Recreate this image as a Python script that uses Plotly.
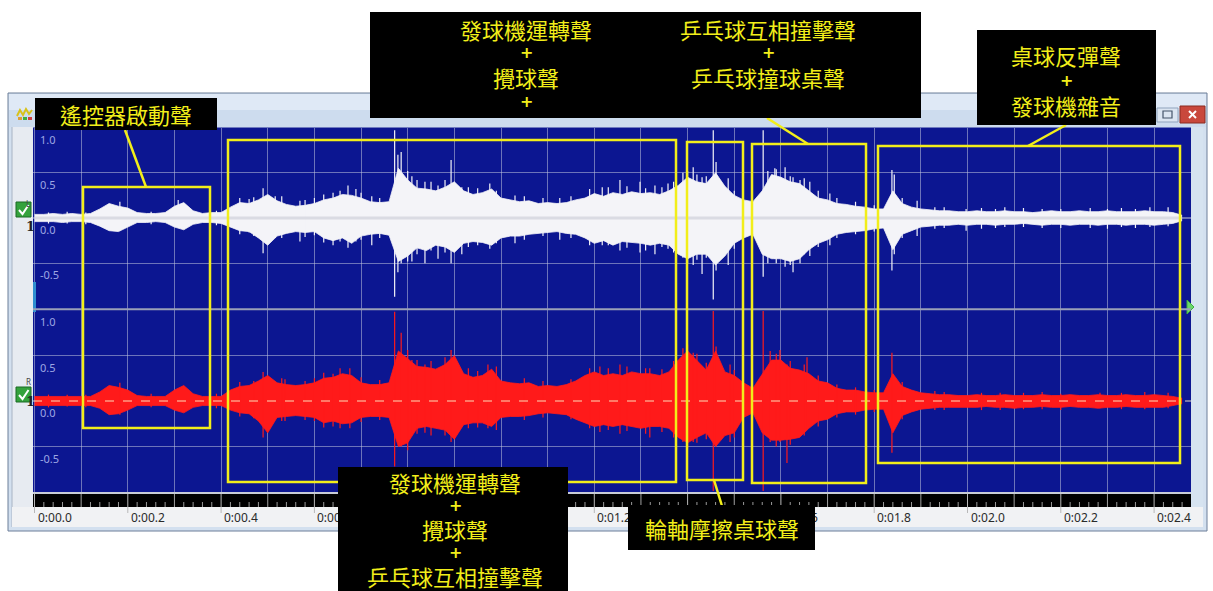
import plotly.graph_objects as go

W, H = 1213, 591

# ---- waveform envelopes (seconds, normalised amplitude) ----
TIME = [
    0.00, 0.02, 0.04, 0.06, 0.08, 0.10, 0.12, 0.14, 0.16, 0.18,
    0.20, 0.22, 0.24, 0.26, 0.28, 0.30, 0.32, 0.34, 0.36, 0.38,
    0.40, 0.42, 0.44, 0.46, 0.48, 0.50, 0.52, 0.54, 0.56, 0.58,
    0.60, 0.62, 0.64, 0.66, 0.68, 0.70, 0.72, 0.74, 0.76, 0.78,
    0.80, 0.82, 0.84, 0.86, 0.88, 0.90, 0.92, 0.94, 0.96, 0.98,
    1.00, 1.02, 1.04, 1.06, 1.08, 1.10, 1.12, 1.14, 1.16, 1.18,
    1.20, 1.22, 1.24, 1.26, 1.28, 1.30, 1.32, 1.34, 1.36, 1.38,
    1.40, 1.42, 1.44, 1.46, 1.48, 1.50, 1.52, 1.54, 1.56, 1.58,
    1.60, 1.62, 1.64, 1.66, 1.68, 1.70, 1.72, 1.74, 1.76, 1.78,
    1.80, 1.82, 1.84, 1.86, 1.88, 1.90, 1.92, 1.94, 1.96, 1.98,
    2.00, 2.02, 2.04, 2.06, 2.08, 2.10, 2.12, 2.14, 2.16, 2.18,
    2.20, 2.22, 2.24, 2.26, 2.28, 2.30, 2.32, 2.34, 2.36, 2.38,
    2.40, 2.42, 2.44, 2.46,
]

L_UP = [
    0.04, 0.04, 0.05, 0.04, 0.05, 0.04, 0.05, 0.10, 0.16, 0.13,
    0.11, 0.06, 0.05, 0.05, 0.06, 0.13, 0.17, 0.08, 0.05, 0.06,
    0.06, 0.12, 0.17, 0.16, 0.20, 0.26, 0.19, 0.15, 0.13, 0.14,
    0.16, 0.20, 0.22, 0.26, 0.25, 0.22, 0.18, 0.17, 0.18, 0.55,
    0.42, 0.33, 0.32, 0.30, 0.34, 0.40, 0.30, 0.26, 0.28, 0.32,
    0.22, 0.20, 0.18, 0.19, 0.16, 0.17, 0.16, 0.17, 0.20, 0.22,
    0.27, 0.24, 0.28, 0.26, 0.29, 0.27, 0.28, 0.26, 0.30, 0.36,
    0.45, 0.40, 0.38, 0.50, 0.35, 0.25, 0.20, 0.18, 0.30, 0.48,
    0.45, 0.40, 0.38, 0.30, 0.22, 0.20, 0.16, 0.15, 0.13, 0.12,
    0.10, 0.10, 0.30, 0.16, 0.12, 0.10, 0.09, 0.08, 0.08, 0.07,
    0.07, 0.08, 0.07, 0.07, 0.08, 0.07, 0.07, 0.06, 0.07, 0.08,
    0.07, 0.07, 0.08, 0.07, 0.07, 0.08, 0.07, 0.07, 0.07, 0.08,
    0.07, 0.07, 0.06, 0.03,
]
L_LO = [
    -0.04, -0.04, -0.04, -0.05, -0.04, -0.04, -0.05, -0.09, -0.14, -0.15,
    -0.10, -0.05, -0.05, -0.04, -0.05, -0.10, -0.13, -0.07, -0.05, -0.05,
    -0.06, -0.10, -0.14, -0.15, -0.22, -0.30, -0.20, -0.17, -0.15, -0.16,
    -0.15, -0.22, -0.25, -0.22, -0.28, -0.20, -0.18, -0.17, -0.19, -0.48,
    -0.42, -0.33, -0.36, -0.30, -0.32, -0.38, -0.28, -0.26, -0.27, -0.30,
    -0.22, -0.20, -0.20, -0.18, -0.17, -0.16, -0.15, -0.17, -0.18, -0.22,
    -0.28, -0.25, -0.30, -0.26, -0.27, -0.28, -0.30, -0.28, -0.30, -0.40,
    -0.45, -0.40, -0.40, -0.52, -0.42, -0.28, -0.22, -0.18, -0.40, -0.45,
    -0.45, -0.48, -0.45, -0.35, -0.28, -0.24, -0.18, -0.16, -0.15, -0.14,
    -0.12, -0.11, -0.35, -0.18, -0.14, -0.10, -0.09, -0.08, -0.08, -0.07,
    -0.08, -0.07, -0.07, -0.08, -0.07, -0.07, -0.06, -0.07, -0.08, -0.07,
    -0.07, -0.08, -0.07, -0.07, -0.08, -0.07, -0.07, -0.08, -0.07, -0.07,
    -0.08, -0.07, -0.06, -0.03,
]

R_UP = [
    0.05, 0.05, 0.05, 0.05, 0.05, 0.05, 0.05, 0.10, 0.17, 0.15,
    0.12, 0.06, 0.05, 0.05, 0.05, 0.12, 0.17, 0.08, 0.05, 0.05,
    0.05, 0.12, 0.16, 0.17, 0.22, 0.28, 0.20, 0.18, 0.17, 0.18,
    0.20, 0.25, 0.26, 0.30, 0.28, 0.20, 0.18, 0.18, 0.20, 0.55,
    0.47, 0.38, 0.37, 0.35, 0.40, 0.50, 0.30, 0.26, 0.28, 0.35,
    0.22, 0.20, 0.19, 0.20, 0.16, 0.17, 0.16, 0.18, 0.22, 0.28,
    0.32, 0.28, 0.30, 0.28, 0.32, 0.30, 0.30, 0.28, 0.32, 0.45,
    0.55, 0.45, 0.34, 0.55, 0.32, 0.28, 0.20, 0.14, 0.30, 0.45,
    0.45, 0.36, 0.34, 0.30, 0.22, 0.20, 0.14, 0.12, 0.12, 0.10,
    0.09, 0.09, 0.30, 0.16, 0.12, 0.09, 0.08, 0.07, 0.07, 0.06,
    0.06, 0.07, 0.06, 0.06, 0.07, 0.06, 0.06, 0.06, 0.07, 0.06,
    0.06, 0.07, 0.06, 0.06, 0.07, 0.06, 0.06, 0.07, 0.06, 0.06,
    0.07, 0.06, 0.05, 0.03,
]
R_LO = [
    -0.05, -0.05, -0.05, -0.05, -0.05, -0.05, -0.05, -0.08, -0.15, -0.14,
    -0.10, -0.05, -0.05, -0.05, -0.05, -0.10, -0.13, -0.07, -0.05, -0.05,
    -0.05, -0.10, -0.13, -0.14, -0.22, -0.35, -0.18, -0.17, -0.16, -0.17,
    -0.18, -0.24, -0.22, -0.25, -0.24, -0.18, -0.17, -0.17, -0.18, -0.50,
    -0.46, -0.30, -0.28, -0.30, -0.32, -0.42, -0.26, -0.24, -0.24, -0.28,
    -0.18, -0.17, -0.17, -0.16, -0.14, -0.13, -0.14, -0.15, -0.20, -0.24,
    -0.28, -0.26, -0.28, -0.26, -0.28, -0.30, -0.28, -0.28, -0.30, -0.40,
    -0.46, -0.40, -0.35, -0.50, -0.38, -0.35, -0.18, -0.13, -0.35, -0.43,
    -0.43, -0.42, -0.40, -0.30, -0.22, -0.20, -0.14, -0.12, -0.12, -0.10,
    -0.09, -0.09, -0.35, -0.16, -0.12, -0.09, -0.08, -0.07, -0.07, -0.07,
    -0.07, -0.07, -0.06, -0.07, -0.07, -0.08, -0.07, -0.07, -0.06, -0.07,
    -0.07, -0.06, -0.07, -0.07, -0.08, -0.07, -0.07, -0.06, -0.07, -0.07,
    -0.07, -0.07, -0.05, -0.03,
]

# ---- individual transient peaks (time, positive peak, negative peak) ----
L_SPIKE_T = [0.030, 0.070, 0.110, 0.183, 0.250, 0.308, 0.390, 0.440, 0.460, 0.470,
             0.490, 0.516, 0.530, 0.569, 0.580, 0.600, 0.620, 0.640, 0.655, 0.672,
             0.689, 0.700, 0.723, 0.740, 0.772, 0.779, 0.786, 0.800, 0.809, 0.820,
             0.837, 0.850, 0.865, 0.880, 0.893, 0.916, 0.930, 0.950, 0.976, 0.990,
             1.030, 1.050, 1.090, 1.126, 1.150, 1.190, 1.217, 1.230, 1.255, 1.270,
             1.298, 1.310, 1.330, 1.345, 1.358, 1.370, 1.390, 1.400, 1.412, 1.420,
             1.431, 1.440, 1.455, 1.461, 1.487, 1.500, 1.562, 1.572, 1.587, 1.590,
             1.609, 1.620, 1.626, 1.641, 1.650, 1.662, 1.680, 1.705, 1.720, 1.760,
             1.800, 1.838, 1.843, 1.860, 1.892, 1.930, 1.950, 1.997, 2.030, 2.060,
             2.080, 2.120, 2.160, 2.200, 2.263, 2.300, 2.330, 2.360, 2.391, 2.430]
L_SPIKE_HI = [0.06, 0.07, 0.06, 0.18, 0.07, 0.20, 0.08, 0.22, 0.21, 0.23,
              0.33, 0.24, 0.24, 0.19, 0.20, 0.22, 0.26, 0.28, 0.30, 0.36,
              0.32, 0.28, 0.24, 0.22, 0.97, 0.70, 0.73, 0.52, 0.46, 0.42,
              0.40, 0.40, 0.36, 0.42, 0.64, 0.34, 0.34, 0.33, 0.38, 0.30,
              0.25, 0.24, 0.22, 0.22, 0.24, 0.32, 0.34, 0.34, 0.42, 0.35,
              0.40, 0.33, 0.36, 0.34, 0.38, 0.40, 0.50, 0.52, 0.56, 0.48,
              0.45, 0.46, 0.97, 0.62, 0.44, 0.30, 0.97, 0.52, 0.55, 0.54,
              0.56, 0.46, 0.45, 0.42, 0.44, 0.40, 0.30, 0.27, 0.22, 0.18,
              0.14, 0.53, 0.48, 0.22, 0.19, 0.12, 0.12, 0.10, 0.11, 0.10,
              0.12, 0.11, 0.10, 0.10, 0.11, 0.10, 0.11, 0.10, 0.12, 0.12]
L_SPIKE_LO = [-0.06, -0.06, -0.07, -0.14, -0.07, -0.10, -0.08, -0.18, -0.16, -0.20,
              -0.39, -0.22, -0.22, -0.26, -0.21, -0.19, -0.27, -0.30, -0.26, -0.33,
              -0.26, -0.24, -0.30, -0.22, -0.87, -0.60, -0.50, -0.48, -0.48, -0.40,
              -0.50, -0.36, -0.45, -0.38, -0.50, -0.40, -0.32, -0.30, -0.34, -0.28,
              -0.28, -0.24, -0.20, -0.24, -0.22, -0.30, -0.30, -0.30, -0.36, -0.33,
              -0.38, -0.36, -0.40, -0.32, -0.34, -0.38, -0.44, -0.50, -0.52, -0.46,
              -0.62, -0.44, -0.90, -0.58, -0.52, -0.34, -0.65, -0.50, -0.45, -0.50,
              -0.54, -0.52, -0.60, -0.50, -0.40, -0.42, -0.32, -0.30, -0.22, -0.18,
              -0.15, -0.58, -0.40, -0.22, -0.20, -0.12, -0.11, -0.14, -0.12, -0.11,
              -0.10, -0.10, -0.11, -0.11, -0.11, -0.12, -0.10, -0.11, -0.10, -0.09]

R_SPIKE_T = [0.030, 0.070, 0.110, 0.183, 0.250, 0.390, 0.440, 0.470, 0.490, 0.530,
             0.537, 0.580, 0.600, 0.620, 0.640, 0.655, 0.676, 0.700, 0.740, 0.772,
             0.786, 0.800, 0.809, 0.820, 0.837, 0.850, 0.880, 0.893, 0.930, 0.950,
             0.972, 0.990, 1.050, 1.090, 1.150, 1.190, 1.212, 1.230, 1.255, 1.270,
             1.310, 1.319, 1.345, 1.370, 1.390, 1.400, 1.412, 1.420, 1.440, 1.455,
             1.461, 1.491, 1.500, 1.562, 1.577, 1.590, 1.598, 1.613, 1.620, 1.650,
             1.656, 1.680, 1.720, 1.760, 1.800, 1.838, 1.860, 1.930, 1.950, 2.030,
             2.070, 2.120, 2.160, 2.200, 2.284, 2.330, 2.380, 2.430]
R_SPIKE_HI = [0.07, 0.07, 0.07, 0.20, 0.08, 0.08, 0.21, 0.22, 0.32, 0.25,
              0.24, 0.22, 0.25, 0.31, 0.30, 0.36, 0.36, 0.26, 0.23, 0.98,
              0.75, 0.56, 0.45, 0.45, 0.40, 0.44, 0.48, 0.56, 0.36, 0.33,
              0.40, 0.38, 0.25, 0.22, 0.24, 0.36, 0.38, 0.36, 0.40, 0.38,
              0.36, 0.36, 0.35, 0.44, 0.58, 0.62, 0.53, 0.52, 0.42, 0.99,
              0.60, 0.40, 0.34, 0.99, 0.55, 0.52, 0.56, 0.40, 0.44, 0.40,
              0.48, 0.28, 0.18, 0.15, 0.12, 0.53, 0.21, 0.11, 0.10, 0.09,
              0.09, 0.09, 0.10, 0.08, 0.09, 0.09, 0.10, 0.09]
R_SPIKE_LO = [-0.07, -0.06, -0.07, -0.15, -0.07, -0.08, -0.17, -0.19, -0.40, -0.22,
              -0.22, -0.21, -0.22, -0.29, -0.28, -0.30, -0.30, -0.23, -0.21, -0.72,
              -0.50, -0.54, -0.36, -0.36, -0.35, -0.38, -0.38, -0.45, -0.30, -0.29,
              -0.30, -0.32, -0.21, -0.18, -0.20, -0.30, -0.34, -0.32, -0.36, -0.33,
              -0.36, -0.40, -0.34, -0.40, -0.45, -0.52, -0.45, -0.46, -0.42, -0.99,
              -0.50, -0.45, -0.40, -0.99, -0.45, -0.50, -0.45, -0.68, -0.48, -0.38,
              -0.30, -0.28, -0.18, -0.15, -0.12, -0.57, -0.20, -0.10, -0.10, -0.10,
              -0.10, -0.09, -0.09, -0.10, -0.08, -0.09, -0.09, -0.08]

# ---- axis text ----
TIME_TICKS = [0.0, 0.2, 0.4, 0.6, 0.8, 1.0, 1.2, 1.4, 1.6, 1.8, 2.0, 2.2, 2.4]
TIME_LABELS = ["0:00.0", "0:00.2", "0:00.4", "0:00.6", "0:00.8", "0:01.0", "0:01.2",
               "0:01.4", "0:01.6", "0:01.8", "0:02.0", "0:02.2", "0:02.4"]
AMP_TICKS = [1.0, 0.5, 0.0, -0.5]
AMP_LABELS = ["1.0", "0.5", "0.0", "-0.5"]

# ---- callout texts ----
NOTE_REMOTE = "遙控器啟動聲"
NOTE_TOP_LEFT = ["發球機運轉聲", "+", "攪球聲", "+"]
NOTE_TOP_RIGHT = ["乒乓球互相撞擊聲", "+", "乒乓球撞球桌聲"]
NOTE_TABLE = ["桌球反彈聲", "+", "發球機雜音"]
NOTE_BOTTOM = ["發球機運轉聲", "+", "攪球聲", "+", "乒乓球互相撞擊聲"]
NOTE_AXLE = "輪軸摩擦桌球聲"


def px(x):
    return x / W


def py(y):
    return 1 - y / H


PLOT_L, PLOT_R = 33, 1191
T_ORIGIN_PX, PX_PER_SEC = 34.5, 466.5
X_RANGE = [(PLOT_L - T_ORIGIN_PX) / PX_PER_SEC, (PLOT_R - T_ORIGIN_PX) / PX_PER_SEC]

BG_BLUE = "#0c1691"
GRID = "rgba(190,195,220,0.55)"
WAVE_L = "#f4f4f8"
WAVE_R = "#ff1a1a"
YELLOW = "#f2ee1a"
CJK = "Noto Sans CJK TC"

# black callout boxes: centre x, centre y, width, height (pixels)
BOX_REMOTE = (126, 114, 182, 32)
BOX_TOP = (645.5, 65, 551, 106)
BOX_TABLE = (1066.5, 77.5, 179, 95)
BOX_BOTTOM = (453, 529, 230, 124)
BOX_AXLE = (721.5, 527.5, 187, 45)
BOXES = [BOX_REMOTE, BOX_TOP, BOX_TABLE, BOX_BOTTOM, BOX_AXLE]


def spike_xy(ts, his, los):
    xs, ys = [], []
    for t, hi, lo in zip(ts, his, los):
        xs += [t, t, None]
        ys += [lo, hi, None]
    return xs, ys


fig = go.Figure()

# left channel
fig.add_trace(go.Scatter(x=X_RANGE, y=[0, 0], xaxis="x", yaxis="y", mode="lines",
                         line=dict(color="#c9ccda", width=1), hoverinfo="skip"))
fig.add_trace(go.Scatter(x=TIME, y=L_UP, xaxis="x", yaxis="y", mode="lines",
                         line=dict(color=WAVE_L, width=0.8), hoverinfo="skip"))
fig.add_trace(go.Scatter(x=TIME, y=L_LO, xaxis="x", yaxis="y", mode="lines",
                         fill="tonexty", fillcolor=WAVE_L,
                         line=dict(color=WAVE_L, width=0.8), hoverinfo="skip"))
sx, sy = spike_xy(L_SPIKE_T, L_SPIKE_HI, L_SPIKE_LO)
fig.add_trace(go.Scatter(x=sx, y=sy, xaxis="x", yaxis="y", mode="lines",
                         line=dict(color=WAVE_L, width=1.2), hoverinfo="skip"))
fig.add_trace(go.Scatter(x=[TIME[0], TIME[-1]], y=[0, 0], xaxis="x", yaxis="y", mode="lines",
                         line=dict(color="rgba(196,198,210,0.55)", width=3), hoverinfo="skip"))

# right channel
fig.add_trace(go.Scatter(x=TIME, y=R_UP, xaxis="x", yaxis="y2", mode="lines",
                         line=dict(color=WAVE_R, width=0.8), hoverinfo="skip"))
fig.add_trace(go.Scatter(x=TIME, y=R_LO, xaxis="x", yaxis="y2", mode="lines",
                         fill="tonexty", fillcolor=WAVE_R,
                         line=dict(color=WAVE_R, width=0.8), hoverinfo="skip"))
sx, sy = spike_xy(R_SPIKE_T, R_SPIKE_HI, R_SPIKE_LO)
fig.add_trace(go.Scatter(x=sx, y=sy, xaxis="x", yaxis="y2", mode="lines",
                         line=dict(color=WAVE_R, width=1.2), hoverinfo="skip"))
fig.add_trace(go.Scatter(x=X_RANGE, y=[0, 0], xaxis="x", yaxis="y2", mode="lines",
                         line=dict(color="rgba(255,240,200,0.9)", width=1, dash="dash"),
                         hoverinfo="skip"))

shapes = []


def rect(x0, y0, x1, y1, fill=None, line=None, lw=0, layer="below"):
    d = dict(type="rect", xref="paper", yref="paper", layer=layer,
             x0=px(x0), x1=px(x1), y0=py(y1), y1=py(y0),
             line=dict(width=lw, color=line or "rgba(0,0,0,0)"))
    if fill:
        d["fillcolor"] = fill
    return d


def seg(x0, y0, x1, y1, color, width, layer="above"):
    return dict(type="line", xref="paper", yref="paper", layer=layer,
                x0=px(x0), y0=py(y0), x1=px(x1), y1=py(y1),
                line=dict(color=color, width=width))


def path(points, fill=None, line=None, lw=1, closed=True, layer="above"):
    s = "M " + " L ".join(f"{px(x):.5f},{py(y):.5f}" for x, y in points)
    if closed:
        s += " Z"
    d = dict(type="path", xref="paper", yref="paper", layer=layer, path=s,
             line=dict(color=line or "rgba(0,0,0,0)", width=lw))
    if fill:
        d["fillcolor"] = fill
    return d


# window chrome
shapes.append(rect(8, 93, 1207, 531, fill="#d3e0ef", line="#6d7f99", lw=1))
shapes.append(rect(9, 94, 1206, 110, fill="#dfe9f6"))
shapes.append(rect(9, 110, 1206, 127, fill="#cddcee"))
shapes.append(rect(12, 127, 33, 507, fill="#e7ebf1"))
shapes.append(seg(12, 127, 12, 527, "#a8b4c4", 1, layer="below"))
shapes.append(rect(1191, 127, 1203, 507, fill="#d6e3f0"))
shapes.append(rect(12, 507, 1203, 527, fill="#f1f2f4"))
# waveform display background
shapes.append(rect(PLOT_L, 127.5, PLOT_R, 493, fill=BG_BLUE))
# title bar icon
shapes.append(path([(17, 116), (20, 110), (23, 115), (26, 109), (29, 114), (32, 110)],
                   line="#d7c21a", lw=2, closed=False))
shapes.append(rect(18, 117, 22, 120, fill="#e0a030", layer="above"))
shapes.append(rect(23, 117, 27, 120, fill="#40b040", layer="above"))
shapes.append(rect(28, 117, 32, 120, fill="#d04040", layer="above"))
# caption buttons
shapes.append(rect(1157, 108, 1178, 122, fill="#dbe5f1", line="#8fa3bd", lw=1))
shapes.append(rect(1163, 111, 1172, 118, line="#44546a", lw=1.2, layer="above"))
shapes.append(rect(1180, 106, 1205, 123, fill="#c9483c", line="#8a2a20", lw=1))
shapes.append(seg(1189, 111, 1196, 118, "white", 2))
shapes.append(seg(1189, 118, 1196, 111, "white", 2))
# channel check boxes
for top in (202, 387):
    shapes.append(rect(16, top, 31, top + 15, fill="#34a23c", line="#1b6b24", lw=1, layer="above"))
    shapes.append(path([(19, top + 8), (22.5, top + 12), (28.5, top + 3)],
                       line="white", lw=2, closed=False))
# edge markers
shapes.append(rect(33, 282, 36, 312, fill="#2f8fd0", layer="above"))
shapes.append(path([(1187, 300), (1194, 307), (1187, 314)], fill="#6ad86a", line="#3fae3f", lw=1))

# channel separator and plot bottom edge
shapes.append(seg(PLOT_L, 309.3, PLOT_R, 309.3, "#9aa0b8", 2))
shapes.append(seg(PLOT_L, 493, PLOT_R, 493, "#c8ccd6", 2))

# time ruler
shapes.append(rect(PLOT_L, 494, PLOT_R, 507, fill="black", layer="above"))
for i in range(0, 125):
    t = i * 0.02
    if t > X_RANGE[1]:
        break
    if i % 10 == 0:
        y0, y1, c = 494, 513, "#b8b8b8"
    elif i % 5 == 0:
        y0, y1, c = 494, 507, "#a0a0a0"
    else:
        y0, y1, c = 502, 507, "#9a9a9a"
    shapes.append(dict(type="line", xref="x", yref="paper", layer="above",
                       x0=t, x1=t, y0=py(y0), y1=py(y1), line=dict(color=c, width=1)))

# highlighted regions
REGIONS = [(83, 187, 210, 428), (228, 140, 676, 482), (687, 142, 743, 480),
           (752, 144, 866, 483), (878, 146, 1180, 463)]
for x0, y0, x1, y1 in REGIONS:
    shapes.append(rect(x0, y0, x1, y1, line=YELLOW, lw=2.5, layer="above"))
# leader lines
shapes.append(seg(125, 130, 146, 187, YELLOW, 2.5))
shapes.append(seg(767, 118, 808, 144, YELLOW, 2.5))
shapes.append(seg(1066, 125, 1028, 146, YELLOW, 2.5))
shapes.append(seg(714, 480, 722, 506, YELLOW, 2.5))

annotations = []


def hidden_by_box(t):
    # ruler labels that sit entirely under a callout box are not drawn
    x0 = T_ORIGIN_PX + t * PX_PER_SEC + 1
    x1 = x0 + 38
    for cx, cy, w, h in BOXES:
        if cx - w / 2 <= x0 and x1 <= cx + w / 2 and cy - h / 2 <= 517 <= cy + h / 2:
            return True
    return False


for t, lab in zip(TIME_TICKS, TIME_LABELS):
    if hidden_by_box(t):
        continue
    annotations.append(dict(x=t, y=py(517), xref="x", yref="paper", text=lab,
                            showarrow=False, xanchor="left", yanchor="middle", xshift=1,
                            font=dict(family="Noto Sans", size=12, color="#2a2a2a")))

for yref in ("y", "y2"):
    for v, lab in zip(AMP_TICKS, AMP_LABELS):
        annotations.append(dict(x=px(38), y=v, xref="paper", yref=yref, text=lab,
                                showarrow=False, xanchor="left", yanchor="top", yshift=-2,
                                font=dict(family="Noto Sans", size=11, color="#9ea7e4")))

for lab, y in (("L", 196), ("R", 381)):
    annotations.append(dict(x=px(23.5), y=py(y), xref="paper", yref="paper", text=lab,
                            showarrow=False, font=dict(family="Noto Sans", size=8, color="#444")))
for y in (226, 411):
    annotations.append(dict(x=px(23.5), y=py(y), xref="paper", yref="paper", text="<b>1</b>",
                            showarrow=False, font=dict(family="DejaVu Serif", size=13, color="#222")))


def black_box(cx, cy, w, h):
    return dict(x=px(cx), y=py(cy), xref="paper", yref="paper", text=" ", showarrow=False,
                width=w, height=h, bgcolor="black", borderpad=0, borderwidth=0,
                xanchor="center", yanchor="middle")


def note(cx, cy, s, size=22):
    family = CJK
    if s == "+":
        s, size, family = "<b>+</b>", 16, "DejaVu Sans"
    return dict(x=px(cx), y=py(cy), xref="paper", yref="paper", text=s, showarrow=False,
                xanchor="center", yanchor="middle",
                font=dict(family=family, size=size, color=YELLOW))


for b in BOXES:
    annotations.append(black_box(*b))

annotations.append(note(126, 114, NOTE_REMOTE))
for s, y in zip(NOTE_TOP_LEFT, (29, 53, 77, 101)):
    annotations.append(note(526, y, s))
for s, y in zip(NOTE_TOP_RIGHT, (29, 53, 77)):
    annotations.append(note(768, y, s))
for s, y in zip(NOTE_TABLE, (55, 80, 105)):
    annotations.append(note(1066, y, s))
for s, y in zip(NOTE_BOTTOM, (482, 505, 529, 552, 576)):
    annotations.append(note(455, y, s))
annotations.append(note(722, 528, NOTE_AXLE))

fig.update_layout(
    width=W, height=H, margin=dict(l=0, r=0, t=0, b=0),
    paper_bgcolor="white", plot_bgcolor="rgba(0,0,0,0)", showlegend=False,
    xaxis=dict(domain=[px(PLOT_L), px(PLOT_R)], range=X_RANGE, showgrid=True,
               gridcolor=GRID, gridwidth=1, tick0=0, dtick=0.1, showticklabels=False,
               zeroline=False, showline=False, ticks="", fixedrange=True),
    yaxis=dict(domain=[py(308.5), py(127.5)], range=[-1, 1], tickvals=[-0.5, 0.5],
               showgrid=True, gridcolor=GRID, showticklabels=False, zeroline=False,
               showline=False, ticks="", fixedrange=True),
    yaxis2=dict(domain=[py(492), py(310)], range=[-1, 1], tickvals=[-0.5, 0.5],
                showgrid=True, gridcolor=GRID, showticklabels=False, zeroline=False,
                showline=False, ticks="", anchor="x", fixedrange=True),
    shapes=shapes, annotations=annotations,
)

fig.write_html("out.html")
